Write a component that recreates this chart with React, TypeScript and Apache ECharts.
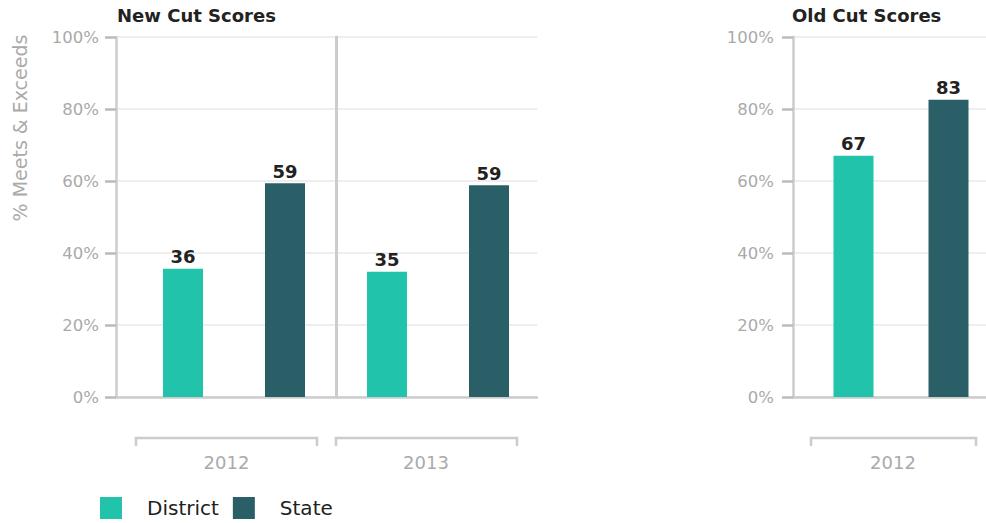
import React, { useEffect, useRef } from "react";
import * as echarts from "echarts";

const newYears = ["2012", "2013"];
const newDistrict = [35.6, 34.8];
const newState = [59.4, 58.8];
const oldYears = ["2012"];
const oldDistrict = [67.0];
const oldState = [82.6];
const seriesNames = ["District", "State"];
const panelTitles = ["New Cut Scores", "Old Cut Scores"];
const yAxisTitle = "% Meets & Exceeds";

const FONT = "DejaVu Sans";
const C_DISTRICT = "#21c4aa";
const C_STATE = "#2b5f67";
const AXIS = "#cccccc";
const GRIDLINE = "#eeeeee";
const LABEL = "#aaaaaa";

export default function App() {
  const ref = useRef<HTMLDivElement>(null);
  useEffect(() => {
    document.body.style.margin = "0";
    const chart = echarts.init(ref.current!, null, { renderer: "svg" });
    const top = 37;
    const bottom = 126;
    const valueAxisVisible = (gridIndex: number, margin: number) => ({
      type: "value",
      gridIndex,
      min: 0,
      max: 100,
      interval: 20,
      axisLine: { show: true, lineStyle: { color: AXIS, width: 2.5 } },
      axisTick: { show: true, length: 11, lineStyle: { color: "#bbbbbb", width: 2.5 } },
      axisLabel: { margin, formatter: "{value}%", color: LABEL, fontSize: 16.5, fontFamily: FONT },
      splitLine: { show: true, lineStyle: { color: GRIDLINE, width: 2 } },
    });
    const hiddenValue = (gridIndex: number) => ({
      type: "value", gridIndex, min: 0, max: 100, interval: 20, show: false,
    });
    const lineX = (gridIndex: number) => ({
      type: "category", gridIndex, data: [""],
      axisLine: { show: true, onZero: false, lineStyle: { color: AXIS, width: 2.5 } },
      axisTick: { show: false }, axisLabel: { show: false }, splitLine: { show: false },
    });
    const richLabel = (pad: number) => ({
      color: LABEL, fontSize: 18, fontFamily: FONT, padding: [0, pad, 0, 0],
    });
    const barLabel = {
      show: true, position: "top", distance: 3,
      formatter: (p: any) => String(Math.round(p.value)),
      fontSize: 18, fontWeight: "bold", color: "#222222", fontFamily: FONT,
    };
    const option: any = {
      animation: false,
      backgroundColor: "#ffffff",
      title: [
        { text: panelTitles[0], left: 117, top: 6, padding: 0,
          textStyle: { fontSize: 18, fontWeight: "bold", color: "#222222", fontFamily: FONT } },
        { text: panelTitles[1], left: 792, top: 6, padding: 0,
          textStyle: { fontSize: 18, fontWeight: "bold", color: "#222222", fontFamily: FONT } },
      ],
      legend: {
        data: seriesNames, left: 100, top: 497, padding: 0, icon: "rect",
        itemWidth: 22, itemHeight: 22, itemGap: 14,
        textStyle: { fontSize: 20, color: "#222222", fontFamily: FONT, padding: [0, 0, 0, 20] },
      },
      grid: [
        { left: 116, right: 449, top, bottom, outerBoundsMode: "none" },
        { left: 132, right: 446, top, bottom, outerBoundsMode: "none" },
        { left: 793, right: 0, top, bottom, outerBoundsMode: "none" },
        { left: 806, right: -10, top, bottom, outerBoundsMode: "none" },
        { left: 336, right: 449, top, bottom, outerBoundsMode: "none" },
      ],
      xAxis: [
        lineX(0),
        {
          type: "category", gridIndex: 1, data: newYears,
          axisLine: { show: false }, axisTick: { show: false }, splitLine: { show: false },
          axisLabel: {
            margin: 56, color: LABEL, fontSize: 18, fontFamily: FONT,
            formatter: (v: string, i: number) => (i === 0 ? `{a|${v}}` : `{b|${v}}`),
            rich: { a: richLabel(15), b: richLabel(24) },
          },
        },
        lineX(2),
        {
          type: "category", gridIndex: 3, data: oldYears,
          axisLine: { show: false }, axisTick: { show: false }, splitLine: { show: false },
          axisLabel: {
            margin: 56, color: LABEL, fontSize: 18, fontFamily: FONT,
            formatter: (v: string) => `{a|${v}}`,
            rich: { a: richLabel(16) },
          },
        },
        { type: "category", gridIndex: 4, data: [""], show: false },
      ],
      yAxis: [
        valueAxisVisible(0, 17),
        hiddenValue(1),
        valueAxisVisible(2, 19),
        hiddenValue(3),
        {
          type: "value", gridIndex: 4, min: 0, max: 100, interval: 20,
          axisLine: { show: true, lineStyle: { color: AXIS, width: 3 } },
          axisTick: { show: false }, axisLabel: { show: false }, splitLine: { show: false },
        },
      ],
      series: [
        { name: seriesNames[0], type: "bar", xAxisIndex: 1, yAxisIndex: 1, data: newDistrict,
          barWidth: 40, barGap: "155%", itemStyle: { color: C_DISTRICT }, label: barLabel },
        { name: seriesNames[1], type: "bar", xAxisIndex: 1, yAxisIndex: 1, data: newState,
          barWidth: 40, barGap: "155%", itemStyle: { color: C_STATE }, label: barLabel },
        { name: seriesNames[0], type: "bar", xAxisIndex: 3, yAxisIndex: 3, data: oldDistrict,
          barWidth: 40, barGap: "137.5%", itemStyle: { color: C_DISTRICT }, label: barLabel },
        { name: seriesNames[1], type: "bar", xAxisIndex: 3, yAxisIndex: 3, data: oldState,
          barWidth: 40, barGap: "137.5%", itemStyle: { color: C_STATE }, label: barLabel },
      ],
      graphic: [
        {
          type: "text", x: 20, y: 128, rotation: Math.PI / 2,
          style: { text: yAxisTitle, align: "center", verticalAlign: "middle",
            fontSize: 19, fill: LABEL, fontFamily: FONT },
        },
        { type: "polyline", shape: { points: [[136, 446], [136, 438], [317, 438], [317, 446]] },
          style: { stroke: AXIS, lineWidth: 2.5, fill: null } },
        { type: "polyline", shape: { points: [[336, 446], [336, 438], [517, 438], [517, 446]] },
          style: { stroke: AXIS, lineWidth: 2.5, fill: null } },
        { type: "polyline", shape: { points: [[811, 446], [811, 438], [976, 438], [976, 446]] },
          style: { stroke: AXIS, lineWidth: 2.5, fill: null } },
      ],
    };
    chart.setOption(option);
    return () => chart.dispose();
  }, []);
  return <div ref={ref} style={{ width: 986, height: 523 }} />;
}
